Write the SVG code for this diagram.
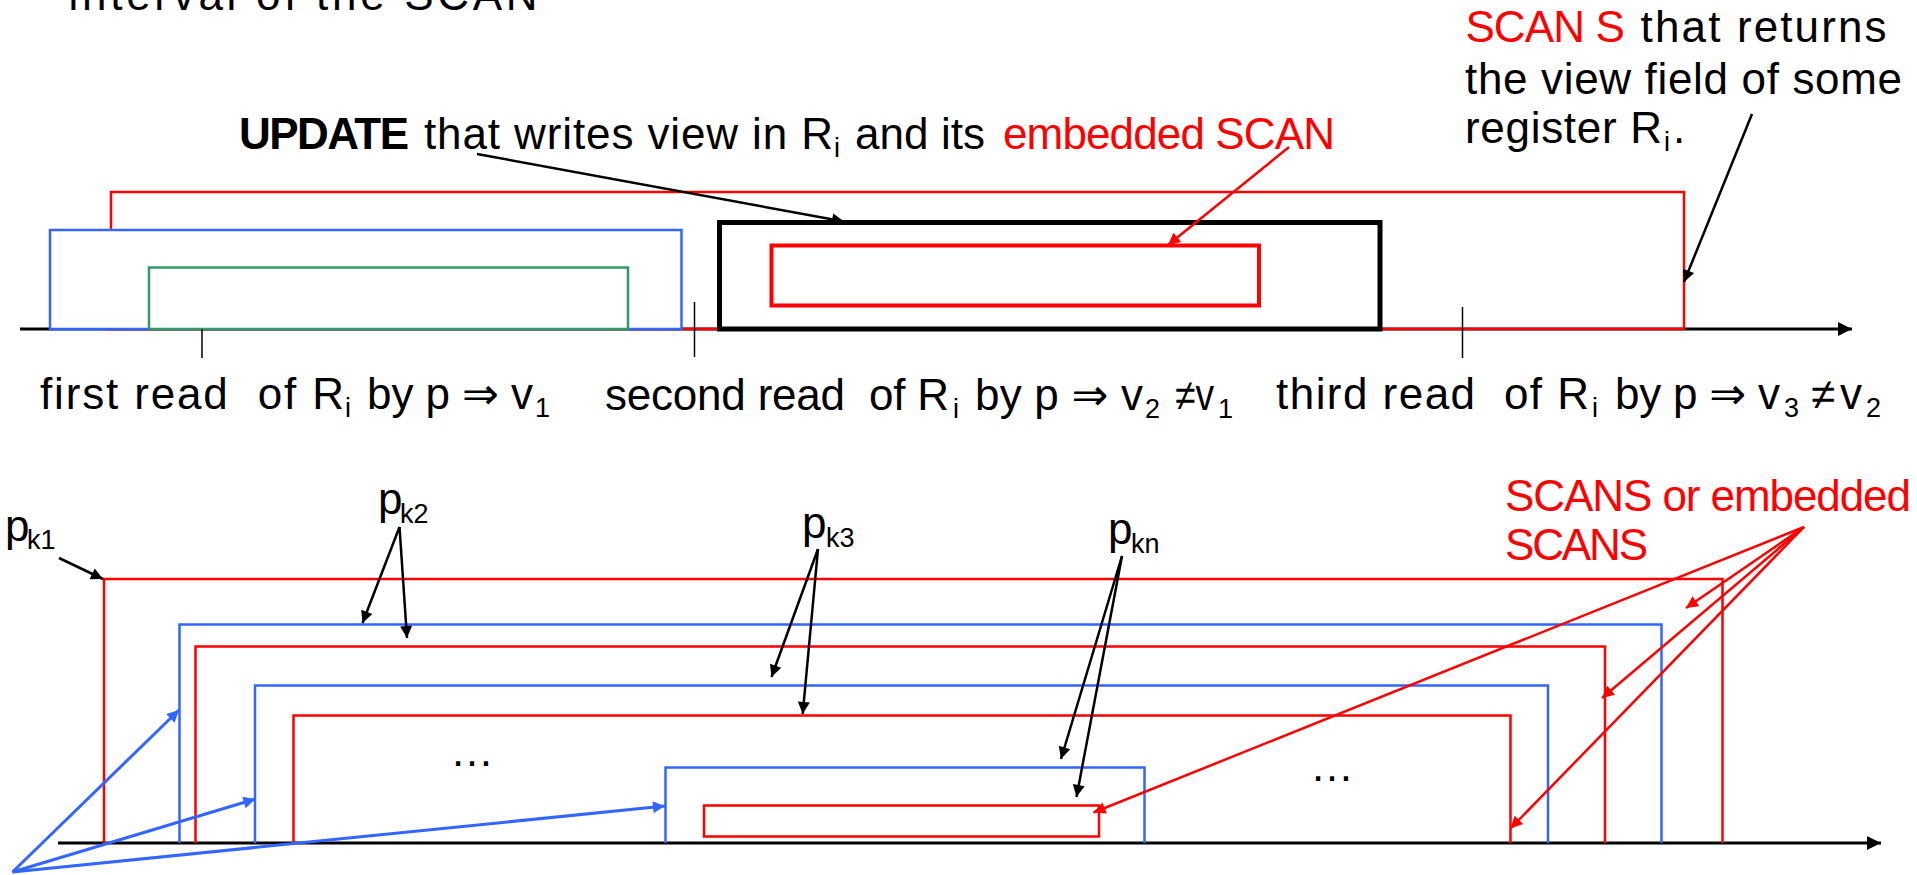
<svg xmlns="http://www.w3.org/2000/svg" width="1917" height="875" viewBox="0 0 1917 875">
<style>
text { font-family: "Liberation Sans", "DejaVu Sans", sans-serif; font-size: 44px; fill: #000; }
.sub { font-size: 27px; }
.red { fill: #FF0000; }
.bold { font-weight: bold; }
.axis { stroke: #000; stroke-width: 3; fill: none; }
.tick { stroke: #000; stroke-width: 1.5; }
.rr { stroke: #FF0000; stroke-width: 2.5; fill: none; }
.bb { stroke: #3366FF; stroke-width: 2.5; fill: none; }
.gg { stroke: #339966; stroke-width: 2.5; fill: none; }
.opaque { fill: #fff; }
.ck { stroke: #000; stroke-width: 2.5; fill: none; marker-end: url(#ah-k); }
.cr { stroke: #FF0000; stroke-width: 2.5; fill: none; marker-end: url(#ah-r); }
.cb { stroke: #3366FF; stroke-width: 3; fill: none; marker-end: url(#ah-b); }
</style>
<defs>
<marker id="ah-k" markerUnits="userSpaceOnUse" viewBox="0 0 10 10" refX="10" refY="5" markerWidth="15" markerHeight="12" orient="auto"><path d="M0,0 L10,5 L0,10 z" fill="#000"/></marker>
<marker id="ah-r" markerUnits="userSpaceOnUse" viewBox="0 0 10 10" refX="10" refY="5" markerWidth="15" markerHeight="12" orient="auto"><path d="M0,0 L10,5 L0,10 z" fill="#FF0000"/></marker>
<marker id="ah-b" markerUnits="userSpaceOnUse" viewBox="0 0 10 10" refX="10" refY="5" markerWidth="15" markerHeight="12" orient="auto"><path d="M0,0 L10,5 L0,10 z" fill="#3366FF"/></marker>
<marker id="ah-axis" markerUnits="userSpaceOnUse" viewBox="0 0 10 10" refX="10" refY="5" markerWidth="16" markerHeight="14" orient="auto"><path d="M0,0 L10,5 L0,10 z" fill="#000"/></marker>
</defs>
<rect x="0" y="0" width="1917" height="875" fill="#fff"/>

<g id="title"><text x="68.6" y="10" textLength="469" lengthAdjust="spacing">interval of the SCAN</text></g>

<!-- top timeline -->
<g id="axis-top">
<line class="axis" x1="20" y1="329" x2="1852" y2="329" marker-end="url(#ah-axis)"/>
</g>
<g id="scan-s"><rect class="rr" x="111" y="192" width="1573" height="137" stroke-width="2"/></g>
<g id="blue-top"><rect class="bb opaque" x="50" y="230" width="631.5" height="99"/></g>
<g id="green-top"><rect class="gg opaque" x="149" y="267.5" width="479" height="61.5"/></g>
<g id="update"><rect x="719.5" y="222.5" width="660.5" height="106.5" fill="#fff" stroke="#000" stroke-width="5"/></g>
<g id="embedded-scan"><rect x="771.5" y="245.5" width="487.5" height="60" fill="none" stroke="#FF0000" stroke-width="4"/></g>
<g id="ticks">
<line class="tick" x1="202" y1="329" x2="202" y2="358"/>
<line class="tick" x1="694.5" y1="302" x2="694.5" y2="357"/>
<line class="tick" x1="1462.5" y1="307" x2="1462.5" y2="358"/>
</g>

<g id="label-update">
<text class="bold" x="239" y="149" textLength="170" lengthAdjust="spacing">UPDATE</text>
<text x="424" y="149" textLength="409" lengthAdjust="spacing">that writes view in R</text>
<text class="sub" x="834" y="157">i</text>
<text x="855" y="149" textLength="130" lengthAdjust="spacing">and its</text>
<text class="red" x="1003" y="149" textLength="332" lengthAdjust="spacing">embedded SCAN</text>
</g>

<g id="label-scan-s">
<text class="red" x="1465.4" y="41.7" textLength="159.4" lengthAdjust="spacing">SCAN S</text>
<text x="1640.6" y="41.7" textLength="246" lengthAdjust="spacing">that returns</text>
<text x="1465" y="94" textLength="437" lengthAdjust="spacing">the view field of some</text>
<text x="1465" y="143" textLength="197" lengthAdjust="spacing">register R</text>
<text class="sub" x="1664" y="151">i</text>
<text x="1673" y="143">.</text>
</g>

<g id="label-first-read">
<text x="40" y="409" textLength="304" lengthAdjust="spacing" xml:space="preserve">first read  of R</text>
<text class="sub" x="345" y="417">i</text>
<text x="367" y="409" textLength="166" lengthAdjust="spacing">by p ⇒ v</text>
<text class="sub" x="535" y="417">1</text>
</g>
<g id="label-second-read">
<text x="605" y="410" textLength="344" lengthAdjust="spacing" xml:space="preserve">second read  of R</text>
<text class="sub" x="953" y="418">i</text>
<text x="975" y="410" textLength="168" lengthAdjust="spacing">by p ⇒ v</text>
<text class="sub" x="1145" y="418">2</text>
<text x="1175" y="410" textLength="39" lengthAdjust="spacingAndGlyphs">≠v</text>
<text class="sub" x="1218" y="418">1</text>
</g>
<g id="label-third-read">
<text x="1276" y="409" textLength="313" lengthAdjust="spacing" xml:space="preserve">third read  of R</text>
<text class="sub" x="1592" y="417">i</text>
<text x="1615" y="409" textLength="165" lengthAdjust="spacing">by p ⇒ v</text>
<text class="sub" x="1784" y="417">3</text>
<text x="1811" y="409" textLength="51" lengthAdjust="spacing" xml:space="preserve">≠ v</text>
<text class="sub" x="1866" y="417">2</text>
</g>

<!-- bottom timeline -->
<g id="axis-bottom">
<line class="axis" x1="58" y1="843" x2="1881" y2="843" marker-end="url(#ah-axis)"/>
</g>
<g id="pk1-scan"><path class="rr" d="M104,843 V579 H1722.5 V843"/></g>
<g id="pk2-update"><path class="bb" d="M179.5,843 V624.5 H1661.5 V843"/></g>
<g id="pk2-scan"><path class="rr" d="M195.5,843 V646.5 H1605 V843"/></g>
<g id="pk3-update"><path class="bb" d="M255,843 V685.5 H1548 V843"/></g>
<g id="pk3-scan"><path class="rr" d="M293.5,843 V715.5 H1510.5 V843"/></g>
<g id="pkn-update"><path class="bb" d="M665.5,843 V767.5 H1144.5 V843"/></g>
<g id="pkn-scan"><rect class="rr" x="704" y="805.5" width="395" height="31"/></g>
<g id="ellipses">
<text x="450" y="766" textLength="38" lengthAdjust="spacing">…</text>
<text x="1310" y="781" textLength="38" lengthAdjust="spacing">…</text>
</g>

<g id="label-pk1"><text x="5" y="541">p</text><text class="sub" x="27" y="549">k1</text></g>
<g id="label-pk2"><text x="378" y="514">p</text><text class="sub" x="400" y="523">k2</text></g>
<g id="label-pk3"><text x="802" y="538">p</text><text class="sub" x="826" y="547">k3</text></g>
<g id="label-pkn"><text x="1108" y="544">p</text><text class="sub" x="1131" y="553">kn</text></g>
<g id="label-scans">
<text class="red" x="1505" y="511" textLength="406" lengthAdjust="spacing">SCANS or embedded</text>
<text class="red" x="1505" y="560" textLength="143" lengthAdjust="spacing">SCANS</text>
</g>

<g id="connectors">
<line class="ck" x1="477" y1="154" x2="844" y2="221.5" stroke-width="3.5"/>
<line class="cr" x1="1289" y1="147" x2="1168" y2="245" stroke-width="2"/>
<line class="ck" x1="1752" y1="114" x2="1684" y2="282" stroke-width="2"/>
<line class="ck" x1="59" y1="558" x2="103" y2="579"/>
<line class="ck" x1="399.5" y1="527" x2="362.5" y2="623"/>
<line class="ck" x1="399.5" y1="527" x2="407" y2="638"/>
<line class="ck" x1="818" y1="549" x2="771.5" y2="677"/>
<line class="ck" x1="818" y1="549" x2="802.7" y2="714"/>
<line class="ck" x1="1122" y1="556" x2="1061" y2="759"/>
<line class="ck" x1="1122" y1="556" x2="1076.5" y2="797"/>
<line class="cr" x1="1804" y1="527" x2="1686" y2="608"/>
<line class="cr" x1="1804" y1="527" x2="1602" y2="698"/>
<line class="cr" x1="1804" y1="527" x2="1510.5" y2="828.5"/>
<line class="cr" x1="1804" y1="527" x2="1093.5" y2="812.5"/>
<line class="cb" x1="12.5" y1="872" x2="179" y2="710"/>
<line class="cb" x1="12.5" y1="872" x2="255.4" y2="799"/>
<line class="cb" x1="12.5" y1="872" x2="665" y2="806"/>
</g>
</svg>
